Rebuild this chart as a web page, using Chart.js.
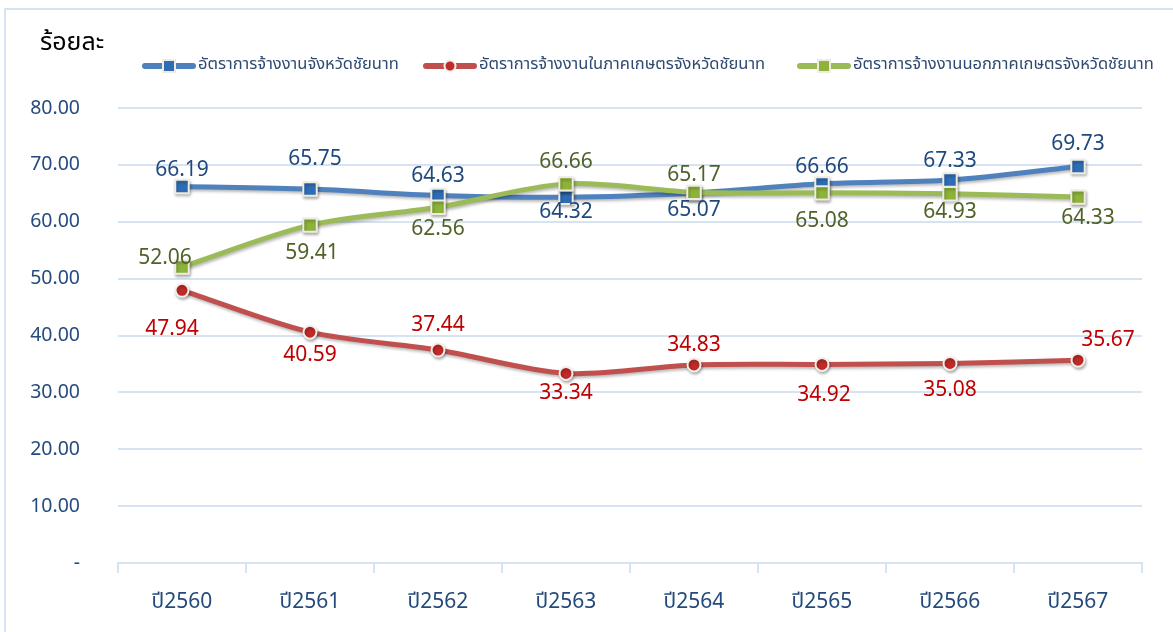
<!DOCTYPE html>
<html>
<head>
<meta charset="utf-8">
<script src="https://cdn.jsdelivr.net/npm/chart.js"></script>
<style>
  html, body { margin: 0; padding: 0; background: #fff; }
  #wrap { width: 1173px; height: 632px; position: relative; }
</style>
</head>
<body>
<div id="wrap"><canvas id="chart" width="1173" height="632"></canvas></div>
<script>
// Data
const years = ['ปี2560', 'ปี2561', 'ปี2562', 'ปี2563', 'ปี2564', 'ปี2565', 'ปี2566', 'ปี2567'];
const totalRate = [66.19, 65.75, 64.63, 64.32, 65.07, 66.66, 67.33, 69.73];
const agriRate = [47.94, 40.59, 37.44, 33.34, 34.83, 34.92, 35.08, 35.67];
const nonAgriRate = [52.06, 59.41, 62.56, 66.66, 65.17, 65.08, 64.93, 64.33];
const seriesNames = [
  'อัตราการจ้างงานจังหวัดชัยนาท',
  'อัตราการจ้างงานในภาคเกษตรจังหวัดชัยนาท',
  'อัตราการจ้างงานนอกภาคเกษตรจังหวัดชัยนาท'
];
const yTicks = [0, 10, 20, 30, 40, 50, 60, 70, 80];

// Label placement (pixels relative to the point), per series
const labelOffsets = [
  [[0, -17], [5, -30], [0, -19], [0, 15], [0, 17], [0, -17], [0, -19], [0, -22]],
  [[-10, 39], [0, 23], [0, -25], [0, 20], [0, -20], [2, 31], [0, 27], [30, -20]],
  [[-17, -9], [2, 28], [0, 22], [0, -22], [0, -17], [0, 28], [0, 18], [10, 21]]
];
const labelColors = ['#1F497D', '#C00000', '#4F6228'];

const thaiFont = '"Tahoma", "Noto Sans Thai", "Noto Sans", "DejaVu Sans", sans-serif';
const numFont = '"Noto Sans", "Open Sans", sans-serif';
const gridBlue = '#D6E3F3';

const framePlugin = {
  id: 'frame',
  beforeDraw(chart) {
    const ctx = chart.ctx;
    ctx.save();
    ctx.strokeStyle = '#D6E3F3';
    ctx.lineWidth = 2;
    ctx.strokeRect(5, 9, 1300, 800);
    ctx.fillStyle = '#000';
    ctx.font = '25px ' + thaiFont;
    ctx.textBaseline = 'middle';
    ctx.fillText('ร้อยละ', 40, 45);
    ctx.restore();
  }
};

const shadowPlugin = {
  id: 'lineShadow',
  beforeDatasetDraw(chart) {
    const ctx = chart.ctx;
    ctx.save();
    ctx.shadowColor = 'rgba(0,0,0,0.28)';
    ctx.shadowBlur = 3;
    ctx.shadowOffsetX = 1;
    ctx.shadowOffsetY = 2;
  },
  afterDatasetDraw(chart) {
    chart.ctx.restore();
  }
};

const labelPlugin = {
  id: 'pointLabels',
  afterDatasetsDraw(chart) {
    const ctx = chart.ctx;
    ctx.save();
    ctx.font = '21px ' + numFont;
    ctx.textAlign = 'center';
    ctx.textBaseline = 'middle';
    chart.data.datasets.forEach((ds, i) => {
      const meta = chart.getDatasetMeta(i);
      ctx.fillStyle = labelColors[i];
      meta.data.forEach((pt, j) => {
        const off = labelOffsets[i][j];
        ctx.fillText(ds.data[j].toFixed(2), pt.x + off[0], pt.y + off[1]);
      });
    });
    ctx.restore();
  }
};

const legendPlugin = {
  id: 'customLegend',
  afterDraw(chart) {
    const ctx = chart.ctx;
    const starts = [142, 423, 797];
    const y = 66;
    ctx.save();
    chart.data.datasets.forEach((ds, i) => {
      const x = starts[i];
      ctx.strokeStyle = ds.borderColor;
      ctx.lineWidth = 6;
      ctx.lineCap = 'round';
      ctx.beginPath();
      ctx.moveTo(x + 3, y);
      ctx.lineTo(x + 51, y);
      ctx.stroke();
      ctx.fillStyle = ds.pointBackgroundColor;
      ctx.strokeStyle = ds.pointBorderColor;
      ctx.lineWidth = 2;
      if (ds.pointStyle === 'circle') {
        ctx.beginPath();
        ctx.arc(x + 27, y, 5.5, 0, Math.PI * 2);
        ctx.fill();
        ctx.stroke();
      } else {
        ctx.fillRect(x + 21, y - 6, 12, 12);
        ctx.strokeRect(x + 21, y - 6, 12, 12);
      }
      ctx.fillStyle = '#2F4A70';
      ctx.font = '16.5px ' + thaiFont;
      ctx.textBaseline = 'middle';
      ctx.fillText(seriesNames[i], x + 56, y);
    });
    ctx.restore();
  }
};

new Chart(document.getElementById('chart'), {
  type: 'line',
  data: {
    labels: years,
    datasets: [
      {
        label: seriesNames[0],
        data: totalRate,
        borderColor: '#4F81BD',
        borderWidth: 5,
        pointStyle: 'rect',
        pointRadius: 9.5,
        pointBackgroundColor: '#2E6DB5',
        pointBorderColor: '#EEECE1',
        pointBorderWidth: 2,
        tension: 0.3,
        order: 3
      },
      {
        label: seriesNames[1],
        data: agriRate,
        borderColor: '#C0504D',
        borderWidth: 5,
        pointStyle: 'circle',
        pointRadius: 6.5,
        pointBackgroundColor: '#C02A28',
        pointBorderColor: '#F2EEEA',
        pointBorderWidth: 2,
        tension: 0.3,
        order: 2
      },
      {
        label: seriesNames[2],
        data: nonAgriRate,
        borderColor: '#9BBB59',
        borderWidth: 5,
        pointStyle: 'rect',
        pointRadius: 9.5,
        pointBackgroundColor: '#8DB33A',
        pointBorderColor: '#EEECE1',
        pointBorderWidth: 2,
        tension: 0.3,
        order: 1
      }
    ]
  },
  options: {
    responsive: false,
    animation: false,
    layout: { padding: { top: 108, right: 31, left: 0, bottom: 0 } },
    plugins: {
      legend: { display: false },
      tooltip: { enabled: false },
      title: { display: false }
    },
    scales: {
      y: {
        min: 0,
        max: 80,
        afterFit(scale) { scale.width = 118; },
        afterBuildTicks(scale) { scale.ticks = yTicks.map(v => ({ value: v })); },
        ticks: {
          color: '#254A7E',
          font: { family: numFont, size: 19.5 },
          padding: 38,
          callback: v => (v === 0 ? '-' : v.toFixed(2))
        },
        grid: { color: gridBlue, lineWidth: 2, drawTicks: false },
        border: { display: false }
      },
      x: {
        offset: true,
        afterFit(scale) { scale.height = 69; },
        ticks: {
          color: '#254A7E',
          font: { family: thaiFont, size: 21 },
          padding: 18
        },
        grid: {
          offset: true,
          drawOnChartArea: false,
          drawTicks: true,
          tickLength: 10,
          color: gridBlue,
          lineWidth: 2
        },
        border: { display: true, color: gridBlue, width: 2 }
      }
    }
  },
  plugins: [framePlugin, shadowPlugin, labelPlugin, legendPlugin]
});
</script>
</body>
</html>
